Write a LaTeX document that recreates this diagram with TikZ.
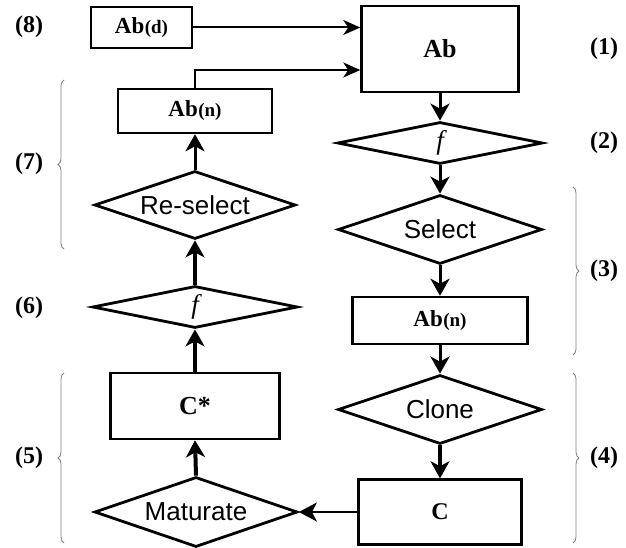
\documentclass[tikz,border=0pt]{standalone}
\usepackage{fontspec}
\setmainfont{Liberation Serif}
\newfontfamily\arialfont{Liberation Sans}
\usetikzlibrary{shapes.geometric,arrows.meta,decorations.pathreplacing}
\newcommand{\subpar}[1]{\kern0.5pt{\fontsize{19}{19}\selectfont(#1)}}
\begin{document}
\begin{tikzpicture}[x=1pt,y=-1pt,
  boxnode/.style={draw,line width=2.5pt,rectangle,inner sep=0pt,
    font=\fontsize{23}{23}\selectfont\bfseries},
  dianode/.style={draw,line width=2.8pt,diamond,shape aspect=3,inner sep=0pt,
    font=\fontsize{26}{26}\selectfont\arialfont},
  fnode/.style={dianode,font=\fontsize{27}{27}\selectfont\rmfamily\itshape},
  flow/.style={line width=3pt,-{Stealth[length=17pt,width=19pt,inset=5pt]}},
  flowthick/.style={line width=4pt,-{Stealth[length=17pt,width=19pt,inset=5pt]}},
  hflow/.style={line width=2pt,-{Stealth[length=17pt,width=15pt,inset=5pt]}},
  bracedeco/.style={draw=gray,line width=0.8pt,decorate,decoration={brace,amplitude=6pt}},
  numlabel/.style={font=\fontsize{24}{24}\selectfont\bfseries,inner sep=0pt}]
\useasboundingbox (0,0) rectangle (626,548);
% right column
\node[boxnode,minimum width=157pt,minimum height=86pt,font=\fontsize{26}{26}\selectfont\bfseries] (ab) at (440,49) {Ab};
\node[fnode,minimum width=205pt,minimum height=42pt] (f1) at (440,143) {f};
\node[dianode,minimum width=204pt,minimum height=69pt] (sel) at (440,229.5) {Select};
\node[boxnode,minimum width=175pt,minimum height=47pt] (abn2) at (440,320.5) {Ab\subpar{n}};
\node[dianode,minimum width=204pt,minimum height=69pt] (clone) at (440,409.5) {Clone};
\node[boxnode,minimum width=163pt,minimum height=65pt,font=\fontsize{24}{24}\selectfont\bfseries] (c) at (440,512) {C};
% left column
\node[boxnode,minimum width=101pt,minimum height=41pt] (abd) at (141.5,27.5) {Ab\subpar{d}};
\node[boxnode,minimum width=154pt,minimum height=44pt] (abn1) at (195,111) {Ab\subpar{n}};
\node[dianode,minimum width=201pt,minimum height=68pt] (resel) at (195,205) {Re-select};
\node[fnode,minimum width=205pt,minimum height=42pt] (f2) at (195,307) {f};
\node[boxnode,minimum width=169pt,minimum height=66pt,font=\fontsize{26}{26}\selectfont\bfseries] (cstar) at (195,406) {C*};
\node[dianode,minimum width=203pt,minimum height=70pt] (mat) at (196,512) {Maturate};
% connectors right
\draw[flow] (ab.south) -- (f1.north);
\draw[flow] (f1.south) -- (sel.north);
\draw[flow] (sel.south) -- (abn2.north);
\draw[flow] (abn2.south) -- (clone.north);
\draw[flowthick] (clone.south) -- (c.north);
\draw[line width=2.5pt,-{Stealth[length=18pt,width=19pt,inset=5pt]}] (c.west) -- (mat.east);
% connectors left
\draw[flowthick] (mat.north) -- (cstar.south);
\draw[flowthick] (cstar.north) -- (f2.south);
\draw[flowthick] (f2.north) -- (resel.south);
\draw[flow] (resel.north) -- (abn1.south);
\coordinate (abin) at ([yshift=-21pt]ab.west);
\draw[hflow] (abn1.north) |- (abin);
\draw[hflow] (abd.east) -- (abd.east -| ab.west);
% braces
\draw[bracedeco] (64,249) -- (64,80);
\draw[bracedeco] (64,543) -- (64,373);
\draw[bracedeco] (573,187) -- (573,355);
\draw[bracedeco] (573,373) -- (573,543);
% labels
\node[numlabel] (l8) at (29,27) {(8)};
\node[numlabel] (l7) at (29,164) {(7)};
\node[numlabel] (l6) at (29,308) {(6)};
\node[numlabel] (l5) at (29,458) {(5)};
\node[numlabel] (l1) at (604,49) {(1)};
\node[numlabel] (l2) at (604,143) {(2)};
\node[numlabel] (l3) at (604,271) {(3)};
\node[numlabel] (l4) at (604,458) {(4)};
\end{tikzpicture}
\end{document}
